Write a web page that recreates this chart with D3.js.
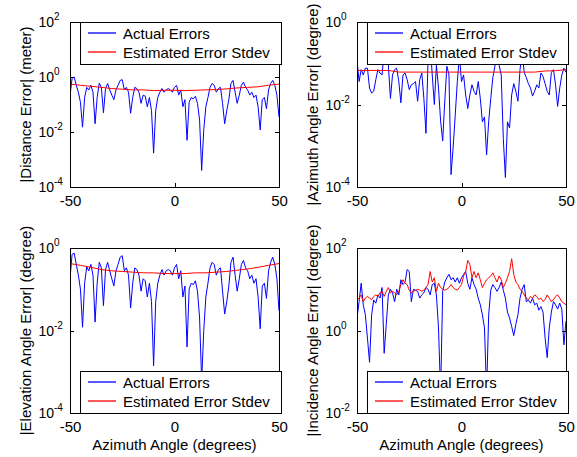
<!DOCTYPE html>
<html>
  <head>
    <meta charset="utf-8">
    <style>
      body { margin: 0; background: #fff; }
      svg text { font-family: "Liberation Sans", Arial, Helvetica, sans-serif; fill: #000; }
      .axis path, .axis line { stroke: #000; shape-rendering: crispEdges; }
    </style>
  </head>
  <body>
    <svg width="577" height="457"></svg>
    <script src="https://d3js.org/d3.v7.min.js"></script>
    <script>
      // sample grids (azimuth angle, degrees)
      var angles = d3.range(-50, 51, 1);
      var stdAngles = d3.range(-50, 51, 5);

      var xTicks = [-50, 0, 50];
      var legendLabels = ["Actual Errors", "Estimated Error Stdev"];
      var seriesColors = ["#0000ff", "#ff0000"];

      // |Distance Error| (meter)
      var distErr = [0.2, 0.9, 1.0, 0.5, 0.28, 0.12, 0.015, 0.18, 0.42, 0.34,
        0.5, 0.28, 0.02, 0.18, 0.6, 0.42, 0.05, 0.38, 0.58, 0.34,
        0.22, 0.15, 0.34, 0.5, 0.75, 0.8, 0.34, 0.42, 0.28, 0.048,
        0.18, 0.42, 0.38, 0.28, 0.11, 0.22, 0.2, 0.083, 0.18, 0.06,
        0.0017, 0.06, 0.18, 0.28, 0.38, 0.28, 0.34, 0.38, 0.34, 0.28,
        0.42, 0.5, 0.22, 0.34, 0.083, 0.15, 0.005, 0.12, 0.18, 0.16,
        0.2, 0.11, 0.027, 0.0004, 0.012, 0.083, 0.18, 0.42, 0.58, 0.5,
        0.28, 0.38, 0.42, 0.11, 0.02, 0.06, 0.15, 0.58, 0.75, 0.28,
        0.11, 0.22, 0.5, 0.65, 0.42, 0.34, 0.22, 0.28, 0.18, 0.22,
        0.083, 0.012, 0.15, 0.18, 0.07, 0.34, 0.58, 0.75, 0.5, 0.22,
        0.035];
      var distStd = [0.55, 0.5, 0.46, 0.42, 0.38, 0.36, 0.34, 0.34, 0.32, 0.33, 0.33,
        0.32, 0.33, 0.34, 0.35, 0.37, 0.4, 0.42, 0.44, 0.5, 0.55];

      // |Azimuth Angle Error| (degree)
      var azErr = [0.12, 0.036, 0.07, 0.052, 0.076, 0.076, 0.025, 0.019, 0.021, 0.04,
        0.07, 0.058, 0.052, 0.2, 0.3, 0.09, 0.014, 0.052, 0.07, 0.076,
        0.036, 0.011, 0.052, 0.058, 0.04, 0.023, 0.03, 0.032, 0.036, 0.012,
        0.04, 0.058, 0.014, 0.002, 0.12, 0.3, 0.052, 0.01, 0.09, 0.025,
        0.004, 0.0013, 0.012, 0.085, 0.052, 0.0002, 0.0009, 0.0055, 0.036, 0.15,
        0.036, 0.052, 0.017, 0.008, 0.017, 0.03, 0.021, 0.017, 0.036, 0.014,
        0.0038, 0.005, 0.0006, 0.0038, 0.014, 0.045, 0.085, 0.2, 0.09, 0.052,
        0.0015, 0.00017, 0.0038, 0.0027, 0.017, 0.032, 0.021, 0.012, 0.07, 0.2,
        0.06, 0.045, 0.032, 0.025, 0.016, 0.021, 0.03, 0.025, 0.058, 0.048,
        0.032, 0.021, 0.017, 0.06, 0.07, 0.03, 0.009, 0.025, 0.052, 0.076,
        0.06];
      var azStd = [0.067, 0.067, 0.067, 0.067, 0.061, 0.061, 0.061, 0.061, 0.061, 0.061, 0.061,
        0.061, 0.061, 0.061, 0.061, 0.061, 0.061, 0.061, 0.065, 0.066, 0.07];

      // |Elevation Angle Error| (degree)
      var elErr = [0.18, 0.7, 0.75, 0.4, 0.22, 0.1, 0.012, 0.14, 0.35, 0.28,
        0.4, 0.22, 0.016, 0.14, 0.45, 0.33, 0.04, 0.3, 0.45, 0.28,
        0.18, 0.12, 0.28, 0.4, 0.6, 0.65, 0.28, 0.33, 0.22, 0.035,
        0.14, 0.33, 0.3, 0.22, 0.09, 0.18, 0.16, 0.065, 0.14, 0.05,
        0.0014, 0.05, 0.14, 0.22, 0.3, 0.22, 0.28, 0.3, 0.28, 0.22,
        0.33, 0.4, 0.18, 0.28, 0.065, 0.12, 0.004, 0.1, 0.14, 0.13,
        0.16, 0.09, 0.02, 0.0006, 0.01, 0.065, 0.14, 0.33, 0.45, 0.4,
        0.22, 0.3, 0.33, 0.09, 0.025, 0.05, 0.12, 0.45, 0.6, 0.22,
        0.09, 0.18, 0.4, 0.5, 0.33, 0.28, 0.18, 0.22, 0.14, 0.18,
        0.065, 0.011, 0.12, 0.14, 0.06, 0.28, 0.45, 0.6, 0.4, 0.18,
        0.03];
      var elStd = [0.42, 0.38, 0.34, 0.3, 0.28, 0.27, 0.26, 0.25, 0.25, 0.24, 0.24,
        0.24, 0.25, 0.25, 0.26, 0.27, 0.29, 0.31, 0.34, 0.38, 0.42];

      // |Incidence Angle Error| (degree)
      var incErr = [2.0, 5.0, 14, 4.2, 2.4, 0.66, 0.17, 2.4, 5.5, 4.6,
        7.3, 6.1, 11, 0.28, 1.4, 7.3, 10, 8.2, 5, 10,
        7.3, 17, 13, 15, 30, 27, 5, 10, 9.5, 8.9,
        6.1, 7.3, 8.2, 11, 10, 7.3, 13, 14, 7.3, 1.15,
        0.03, 8.9, 15, 19, 23, 17, 19, 15, 19, 14,
        19, 23, 27, 14, 10, 19, 13, 10, 6.1, 4.2,
        2.4, 1.15, 0.03, 2.4, 9.5, 13, 11, 8.9, 11, 15,
        9.5, 6.1, 2.8, 2.0, 1.25, 0.75, 1.4, 2.4, 6.1, 10,
        13, 5, 5.5, 4.6, 6.1, 4.2, 4.6, 3.1, 3.8, 2.8,
        0.66, 0.22, 1.15, 2.8, 5, 4.2, 3.3, 4.6, 3.3, 0.45,
        1.7];
      var incStd = [5.6, 6.1, 7.3, 5.0, 6.1, 6.7, 6.1, 5.6, 6.7, 7.3,
        6.7, 8.2, 8.9, 6.7, 8.9, 11, 8.2, 8.9, 8.2, 7.3,
        8.9, 13, 17, 14, 13, 9.5, 8.2, 8.9, 9.5, 10,
        9.5, 8.9, 9.5, 11, 13, 27, 15, 19, 8.9, 14,
        11, 10, 9.5, 10, 11, 13, 11, 10, 9.5, 11,
        13, 21, 27, 50, 40, 19, 27, 19, 25, 17,
        11, 14, 17, 19, 21, 25, 19, 15, 21, 17,
        11, 14, 19, 27, 55, 23, 15, 13, 10, 8.9,
        7.3, 6.1, 5.6, 6.7, 6.1, 7.3, 6.7, 5.6, 6.1, 5.0,
        5.6, 7.3, 6.1, 5.0, 5.6, 6.7, 7.3, 6.1, 5.0, 4.6,
        4.2];

      var svg = d3.select("svg");
      svg.append("rect").attr("width", 577).attr("height", 457).attr("fill", "#fff");

      var plotW = 209, plotH = 165;

      var panels = [
        { id: "dist", left: 70, top: 22, exps: [-4, -2, 0, 2], err: distErr, errX: angles, std: distStd, stdX: stdAngles,
          ylabel: "|Distance Error| (meter)", legend: "top", xlabel: false },
        { id: "az", left: 357, top: 22, exps: [-4, -2, 0], err: azErr, errX: angles, std: azStd, stdX: stdAngles,
          ylabel: "|Azimuth Angle Error| (degree)", legend: "top", xlabel: false },
        { id: "el", left: 70, top: 248, exps: [-4, -2, 0], err: elErr, errX: angles, std: elStd, stdX: stdAngles,
          ylabel: "|Elevation Angle Error| (degree)", legend: "bottom", xlabel: true },
        { id: "inc", left: 357, top: 248, exps: [-2, 0, 2], err: incErr, errX: angles, std: incStd, stdX: angles,
          ylabel: "|Incidence Angle Error| (degree)", legend: "bottom", xlabel: true }
      ];

      panels.forEach(drawPanel);

      function drawPanel(p) {
        var bottom = p.top + plotH, right = p.left + plotW;
        var yTicks = p.exps.map(function(e) { return Math.pow(10, e); });

        var x = d3.scaleLinear().domain([-50, 50]).range([p.left, right]);
        var y = d3.scaleLog()
          .domain([yTicks[0], yTicks[yTicks.length - 1]])
          .range([bottom, p.top]);

        var g = svg.append("g").attr("id", p.id);

        g.append("clipPath").attr("id", "clip-" + p.id)
          .append("rect")
            .attr("x", p.left).attr("y", p.top)
            .attr("width", plotW).attr("height", plotH);

        var line = d3.line()
          .x(function(d) { return x(d[0]); })
          .y(function(d) { return y(d[1]); });

        var plot = g.append("g").attr("clip-path", "url(#clip-" + p.id + ")");
        plot.append("path")
          .attr("fill", "none").attr("stroke", seriesColors[0]).attr("stroke-width", 1)
          .attr("d", line(d3.zip(p.errX, p.err)));
        plot.append("path")
          .attr("fill", "none").attr("stroke", seriesColors[1]).attr("stroke-width", 1)
          .attr("d", line(d3.zip(p.stdX, p.std)));

        // axes (ticks inward, all four sides)
        g.append("g").attr("class", "axis")
          .attr("transform", "translate(0," + bottom + ")")
          .call(d3.axisBottom(x).tickValues(xTicks).tickSize(-4).tickSizeOuter(0).tickPadding(8).tickFormat(String))
          .selectAll("text").style("font-size", "15px");
        g.append("g").attr("class", "axis")
          .attr("transform", "translate(0," + p.top + ")")
          .call(d3.axisTop(x).tickValues(xTicks).tickSize(-4).tickSizeOuter(0).tickFormat(function() { return ""; }));
        g.append("g").attr("class", "axis")
          .attr("transform", "translate(" + p.left + ",0)")
          .call(d3.axisLeft(y).tickValues(yTicks).tickSize(-4).tickSizeOuter(0).tickFormat(function() { return ""; }));
        g.append("g").attr("class", "axis")
          .attr("transform", "translate(" + right + ",0)")
          .call(d3.axisRight(y).tickValues(yTicks).tickSize(-4).tickSizeOuter(0).tickFormat(function() { return ""; }));
        g.selectAll(".axis").attr("font-family", null);

        // legend, drawn over the axes box
        var lx = p.left + 10, lw = 201, lh = 42;
        var ly = p.legend === "top" ? p.top : bottom - lh;
        var leg = g.append("g");
        leg.append("rect")
          .attr("x", lx + 0.5).attr("y", ly + 0.5)
          .attr("width", lw).attr("height", lh)
          .attr("fill", "#fff").attr("stroke", "#000")
          .style("shape-rendering", "crispEdges");
        legendLabels.forEach(function(label, i) {
          var ry = ly + 11 + i * 19;
          leg.append("path")
            .attr("fill", "none")
            .attr("stroke", seriesColors[i])
            .attr("stroke-width", 1.3)
            .attr("d", "M" + (lx + 8) + "," + ry + "H" + (lx + 36));
          leg.append("text")
            .attr("x", lx + 43).attr("y", ry + 5.5)
            .style("font-size", "15px")
            .text(label);
        });

        // y tick labels as 10^n
        var ylab = g.append("g");
        ylab.selectAll("text.base")
          .data(p.exps)
          .enter().append("text")
            .attr("class", "base")
            .attr("x", p.left - 16)
            .attr("y", function(e) { return y(Math.pow(10, e)) + 5; })
            .attr("text-anchor", "end")
            .style("font-size", "14px")
            .text("10");
        ylab.selectAll("text.exp")
          .data(p.exps)
          .enter().append("text")
            .attr("class", "exp")
            .attr("x", p.left - 16)
            .attr("y", function(e) { return y(Math.pow(10, e)) - 2; })
            .style("font-size", "10px")
            .text(function(e) { return e; });

        g.append("text")
          .attr("transform", "translate(" + (p.left - 39) + "," + (p.top + plotH / 2) + ") rotate(-90)")
          .attr("text-anchor", "middle")
          .style("font-size", "15px")
          .text(p.ylabel);

        if (p.xlabel) {
          g.append("text")
            .attr("x", (p.left + right) / 2)
            .attr("y", bottom + 37)
            .attr("text-anchor", "middle")
            .style("font-size", "15px")
            .text("Azimuth Angle (degrees)");
        }
      }
    </script>
  </body>
</html>
